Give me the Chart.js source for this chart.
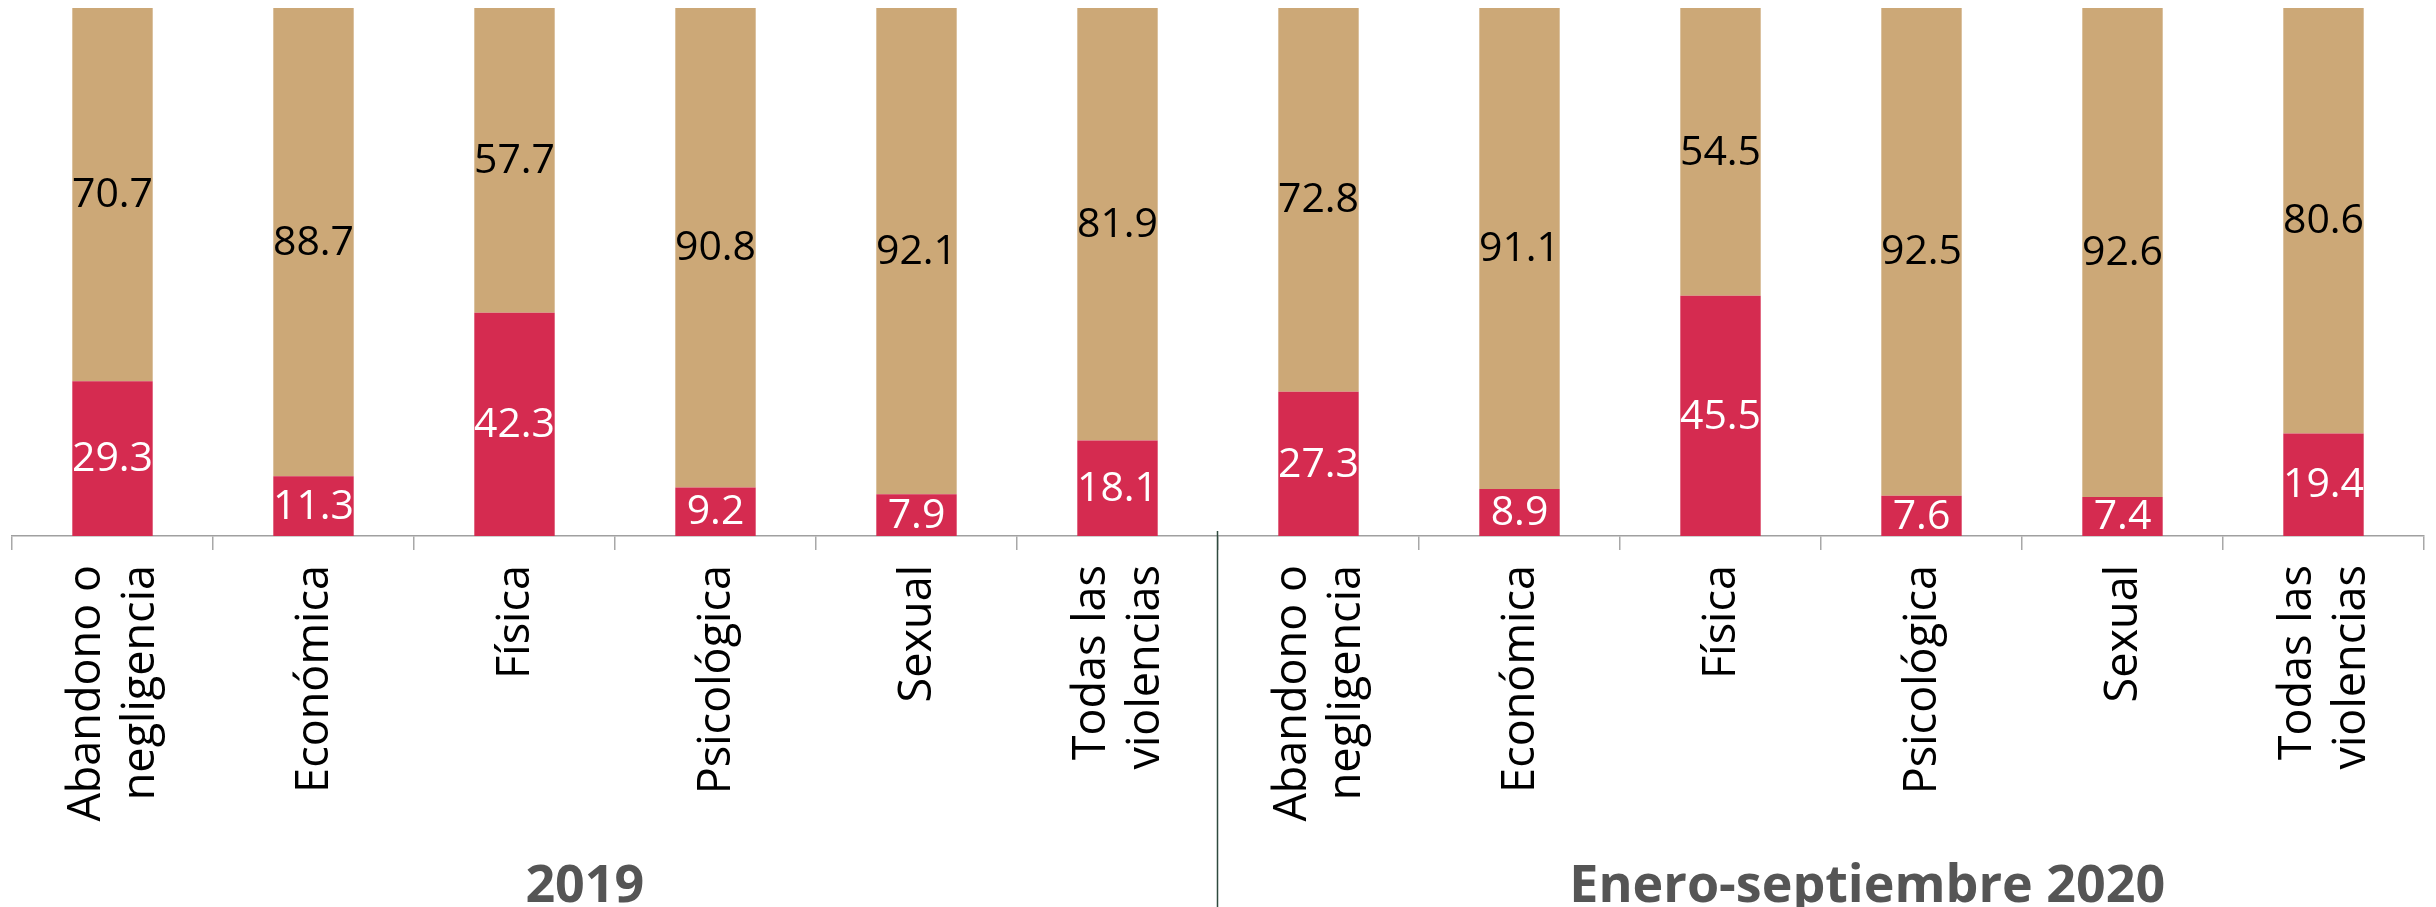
<!DOCTYPE html>
<html lang="es">
<head>
<meta charset="utf-8">
<title>Tipos de violencia 2019 / 2020</title>
<script src="https://cdn.jsdelivr.net/npm/chart.js@4"></script>
<style>
    html, body { margin: 0; padding: 0; background: #fff; }
    #contenedor { width: 2436px; height: 907px; position: relative; }
</style>
</head>
<body>
<div id="contenedor"><canvas id="grafica"></canvas></div>
<script>
// Datos
const categorias = [
    ["Abandono o", "negligencia"], "Económica", "Física", "Psicológica", "Sexual", ["Todas las", "violencias"],
    ["Abandono o", "negligencia"], "Económica", "Física", "Psicológica", "Sexual", ["Todas las", "violencias"]
];
const valoresRojo = [29.3, 11.3, 42.3, 9.2, 7.9, 18.1, 27.3, 8.9, 45.5, 7.6, 7.4, 19.4];
const valoresDorado = [70.7, 88.7, 57.7, 90.8, 92.1, 81.9, 72.8, 91.1, 54.5, 92.5, 92.6, 80.6];
const periodos = ["2019", "Enero-septiembre 2020"];

const FUENTE = '"Open Sans", "Noto Sans", sans-serif';

// Etiquetas de valor dentro de cada segmento
const pluginValores = {
    id: 'valores',
    afterDatasetsDraw(chart) {
        const ctx = chart.ctx;
        ctx.save();
        ctx.font = '41px ' + FUENTE;
        ctx.textAlign = 'center';
        ctx.textBaseline = 'middle';
        chart.data.datasets.forEach((ds, i) => {
            const meta = chart.getDatasetMeta(i);
            ctx.fillStyle = i === 0 ? '#ffffff' : '#000000';
            meta.data.forEach((bar, j) => {
                const centro = (bar.y + bar.base) / 2;
                ctx.fillText(ds.data[j].toFixed(1), bar.x, centro + 1);
            });
        });
        ctx.restore();
    }
};

// Etiquetas de categoría giradas, divisor y títulos de periodo
const pluginEjeX = {
    id: 'ejeX',
    afterDraw(chart) {
        const ctx = chart.ctx;
        const x = chart.scales.x;
        const alto = chart.height;
        const altoLinea = 54;

        ctx.save();
        ctx.font = '45px ' + FUENTE;
        ctx.fillStyle = '#000';
        ctx.textAlign = 'right';
        ctx.textBaseline = 'middle';
        categorias.forEach((cat, i) => {
            const lineas = Array.isArray(cat) ? cat : [cat];
            const px = x.getPixelForValue(i);
            lineas.forEach((linea, k) => {
                const desp = (k - (lineas.length - 1) / 2) * altoLinea;
                ctx.save();
                ctx.translate(px + desp + 2, x.top + 29);
                ctx.rotate(-Math.PI / 2);
                ctx.fillText(linea, 0, 0);
                ctx.restore();
            });
        });

        // linea divisoria entre periodos
        const xDiv = Math.round(x.getPixelForValue(5.5)) - 0.5;
        ctx.strokeStyle = '#2f4a3e';
        ctx.lineWidth = 1.5;
        ctx.beginPath();
        ctx.moveTo(xDiv, x.top - 5);
        ctx.lineTo(xDiv, alto);
        ctx.stroke();

        // titulos de periodo
        ctx.font = 'bold 52px ' + FUENTE;
        ctx.fillStyle = '#555555';
        ctx.textAlign = 'center';
        ctx.textBaseline = 'alphabetic';
        ctx.fillText(periodos[0], x.getPixelForValue(2.35), alto - 5);
        ctx.fillText(periodos[1], x.getPixelForValue(8.73), alto - 5);
        ctx.restore();
    }
};

const ctx = document.getElementById('grafica').getContext('2d');
const grafica = new Chart(ctx, {
    type: 'bar',
    data: {
        labels: categorias,
        datasets: [
            {
                label: 'Rojo',
                data: valoresRojo,
                backgroundColor: '#d52b50',
                categoryPercentage: 1,
                barPercentage: 0.4
            },
            {
                label: 'Dorado',
                data: valoresDorado,
                backgroundColor: '#cca877',
                categoryPercentage: 1,
                barPercentage: 0.4
            }
        ]
    },
    options: {
        responsive: true,
        maintainAspectRatio: false,
        animation: false,
        layout: { padding: { left: 12, right: 12, top: 8, bottom: 0 } },
        scales: {
            x: {
                stacked: true,
                offset: true,
                ticks: { display: false },
                grid: {
                    offset: true,
                    drawOnChartArea: false,
                    drawTicks: true,
                    tickLength: 14,
                    color: '#a8a8a8',
                    lineWidth: 1.5
                },
                border: { display: true, color: '#a0a0a0', width: 1.5 },
                afterFit: (escala) => { escala.height = 907 - 536; }
            },
            y: {
                stacked: true,
                display: false,
                min: 0,
                max: 100
            }
        },
        plugins: {
            legend: { display: false },
            tooltip: { enabled: false }
        }
    },
    plugins: [pluginValores, pluginEjeX]
});
</script>
</body>
</html>
